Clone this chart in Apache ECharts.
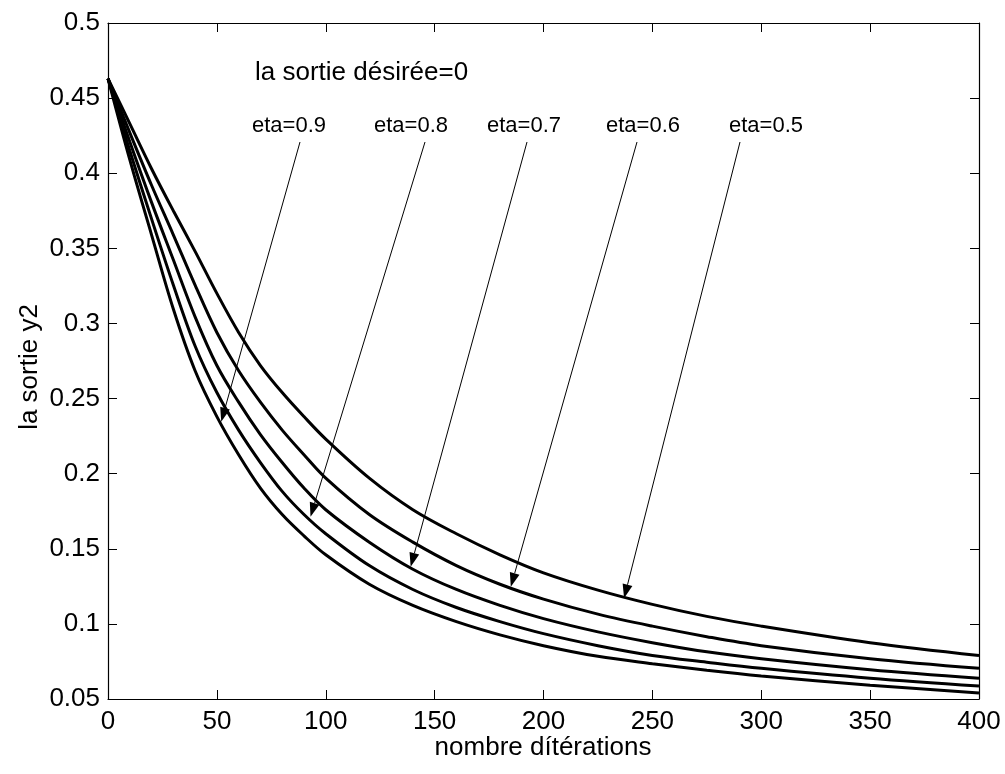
<!DOCTYPE html>
<html><head><meta charset="utf-8">
<script src="https://cdn.jsdelivr.net/npm/echarts@6/dist/echarts.min.js"></script>
<style>html,body{margin:0;padding:0;background:#fff}#c{width:1005px;height:774px}</style>
</head><body><div id="c"></div>
<script>
// ---- data ----
const iterations = [0,10,20,30,40,50,60,70,80,90,100,120,140,160,180,200,225,250,275,300,350,400];
const yEta05 = [0.463,0.433,0.403,0.375,0.348,0.320,0.294,0.272,0.254,0.238,0.223,0.197,0.176,0.160,0.146,0.134,0.1225,0.113,0.105,0.0985,0.0875,0.0790];
const yEta06 = [0.463,0.427,0.392,0.359,0.3255,0.294,0.2685,0.2476,0.229,0.2126,0.197,0.1728,0.1544,0.1388,0.1264,0.1165,0.1065,0.0985,0.0915,0.0855,0.0768,0.0704];
const yEta07 = [0.463,0.421,0.3806,0.3424,0.3044,0.272,0.2476,0.226,0.2074,0.1904,0.176,0.1544,0.1364,0.1229,0.1123,0.1035,0.0947,0.0875,0.0814,0.0768,0.0695,0.0638];
const yEta08 = [0.463,0.415,0.3696,0.3256,0.285,0.254,0.229,0.2074,0.1882,0.1728,0.160,0.1388,0.1229,0.1109,0.1015,0.0935,0.0855,0.0790,0.0745,0.0704,0.0638,0.0586];
const yEta09 = [0.463,0.409,0.359,0.3096,0.2685,0.238,0.2126,0.1904,0.1728,0.1586,0.146,0.1264,0.1123,0.1015,0.0927,0.0855,0.0784,0.0735,0.0691,0.0653,0.0592,0.0540];
const seriesNames = ['eta=0.5','eta=0.6','eta=0.7','eta=0.8','eta=0.9'];
const xTickValues = [0,50,100,150,200,250,300,350,400];
const yTickValues = [0.05,0.1,0.15,0.2,0.25,0.3,0.35,0.4,0.45,0.5];
// annotation labels and the curve points their arrows point at
const annotLabels = ['eta=0.9','eta=0.8','eta=0.7','eta=0.6','eta=0.5'];
const arrowTipIter = [52, 93, 139, 185, 237];
const arrowTipValue = [0.2346, 0.1714, 0.138, 0.1247, 0.117];
const titleText = 'la sortie désirée=0';
const xName = 'nombre dítérations';
const yName = 'la sortie y2';

// ---- layout (pixels) ----
const FONT = "'Liberation Sans', Arial, sans-serif";
const FS = 26;      // tick labels / axis names / title
const FS_ETA = 22;  // eta labels
const gridL = 108, gridR = 26, gridT = 23, gridB = 75;
const labelLeft = [252, 374, 487, 606, 729];
const labelY = 126;
const arrowStartX = [300, 425, 527, 637, 740];
const arrowStartY = 142;

const chart = echarts.init(document.getElementById('c'), null, {renderer: 'canvas'});
const allY = [yEta05, yEta06, yEta07, yEta08, yEta09];
const series = allY.map((ys, i) => ({
  name: seriesNames[i], type: 'line', smooth: 0.35, symbol: 'none',
  lineStyle: {color: '#000', width: 3}, animation: false,
  data: iterations.map((x, j) => [x, ys[j]])
}));

const axisCommon = {
  axisLine: {show: true, onZero: false, lineStyle: {color: '#000', width: 1.2}},
  axisTick: {show: true, inside: true, length: 9, lineStyle: {color: '#000', width: 1}},
  splitLine: {show: false}
};
chart.setOption({
  backgroundColor: '#fff',
  animation: false,
  grid: {left: gridL, right: gridR, top: gridT, bottom: gridB},
  xAxis: [
    Object.assign({type: 'value', min: 0, max: 400, interval: 50, position: 'bottom',
      axisLabel: {color: '#000', fontSize: FS, fontFamily: FONT, margin: 10}}, axisCommon),
    Object.assign({type: 'value', min: 0, max: 400, interval: 50, position: 'top',
      axisLabel: {show: false}}, axisCommon)
  ],
  yAxis: [
    Object.assign({type: 'value', min: 0.05, max: 0.5, interval: 0.05, position: 'left',
      axisLabel: {color: '#000', fontSize: FS, fontFamily: FONT, margin: 8,
        formatter: v => String(+v.toFixed(2))}}, axisCommon),
    Object.assign({type: 'value', min: 0.05, max: 0.5, interval: 0.05, position: 'right',
      axisLabel: {show: false}}, axisCommon)
  ],
  series: series
});

// annotations
const g = [];
g.push({type: 'text', x: 255, y: 73, style: {text: titleText, font: FS + 'px ' + FONT, fill: '#000', align: 'left', verticalAlign: 'middle'}});
g.push({type: 'text', x: 543, y: 748, style: {text: xName, font: FS + 'px ' + FONT, fill: '#000', align: 'center', verticalAlign: 'middle'}});
g.push({type: 'text', x: 30, y: 367, rotation: Math.PI/2, style: {text: yName, font: FS + 'px ' + FONT, fill: '#000', align: 'center', verticalAlign: 'middle'}});
annotLabels.forEach((t, i) => {
  g.push({type: 'text', x: labelLeft[i], y: labelY, style: {text: t, font: FS_ETA + 'px ' + FONT, fill: '#000', align: 'left', verticalAlign: 'middle'}});
  const tip = chart.convertToPixel({gridIndex: 0}, [arrowTipIter[i], arrowTipValue[i]]);
  const sx = arrowStartX[i], sy = arrowStartY;
  const dx = tip[0] - sx, dy = tip[1] - sy, len = Math.hypot(dx, dy);
  const ux = dx/len, uy = dy/len, hl = 14, hw = 5;
  const bx = tip[0] - ux*hl, by = tip[1] - uy*hl;
  g.push({type: 'line', shape: {x1: sx, y1: sy, x2: bx, y2: by}, style: {stroke: '#000', lineWidth: 1}});
  g.push({type: 'polygon', shape: {points: [[tip[0], tip[1]], [bx - uy*hw, by + ux*hw], [bx + uy*hw, by - ux*hw]]}, style: {fill: '#000'}});
});
chart.setOption({graphic: g});
</script></body></html>
